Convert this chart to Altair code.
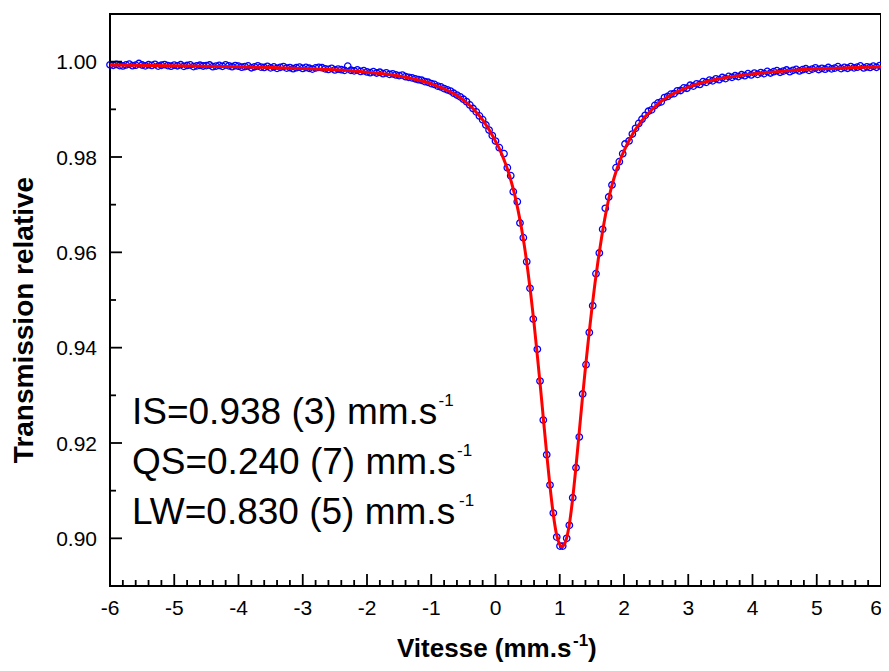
import altair as alt
import pandas as pd

FONT = "Liberation Sans"

left_wing = [(-6.00,0.99935),(-5.95,0.99925),(-5.90,0.99941),(-5.85,0.99918),(-5.80,0.99910),(-5.75,0.99932),(-5.70,0.99948),(-5.65,0.99915),(-5.60,0.99926),(-5.55,0.99962),(-5.50,0.99930),(-5.45,0.99912),(-5.40,0.99936),(-5.35,0.99921),(-5.30,0.99944),(-5.25,0.99908),(-5.20,0.99925),(-5.15,0.99939),(-5.10,0.99917),(-5.05,0.99905),(-5.00,0.99928),(-4.95,0.99914),(-4.90,0.99936),(-4.85,0.99902),(-4.80,0.99920),(-4.75,0.99931),(-4.70,0.99897),(-4.65,0.99912),(-4.60,0.99925),(-4.55,0.99909),(-4.50,0.99918),(-4.45,0.99930),(-4.40,0.99895),(-4.35,0.99908),(-4.30,0.99921),(-4.25,0.99903),(-4.20,0.99935),(-4.15,0.99912),(-4.10,0.99894),(-4.05,0.99918),(-4.00,0.99906),(-3.95,0.99884),(-3.90,0.99897),(-3.85,0.99911),(-3.80,0.99872),(-3.75,0.99893),(-3.70,0.99914),(-3.65,0.99886),(-3.60,0.99878),(-3.55,0.99902),(-3.50,0.99870),(-3.45,0.99889),(-3.40,0.99860),(-3.35,0.99881),(-3.30,0.99896),(-3.25,0.99866),(-3.20,0.99877),(-3.15,0.99852),(-3.10,0.99873),(-3.05,0.99886),(-3.00,0.99858),(-2.95,0.99879),(-2.90,0.99862),(-2.85,0.99844),(-2.80,0.99869),(-2.75,0.99881),(-2.70,0.99873),(-2.65,0.99850),(-2.60,0.99838),(-2.55,0.99861),(-2.50,0.99827),(-2.45,0.99844),(-2.40,0.99832),(-2.35,0.99818),(-2.30,0.99905),(-2.25,0.99820),(-2.20,0.99808),(-2.15,0.99826),(-2.10,0.99795),(-2.05,0.99812),(-2.00,0.99784),(-1.95,0.99770),(-1.90,0.99791),(-1.85,0.99762),(-1.80,0.99778),(-1.75,0.99748),(-1.70,0.99765),(-1.65,0.99735),(-1.60,0.99744),(-1.55,0.99722),(-1.50,0.99708),(-1.45,0.99718),(-1.40,0.99686),(-1.35,0.99672),(-1.30,0.99660),(-1.25,0.99641),(-1.20,0.99622),(-1.15,0.99610),(-1.10,0.99582),(-1.05,0.99568),(-1.00,0.99540),(-0.95,0.99522),(-0.90,0.99488),(-0.85,0.99470),(-0.80,0.99436),(-0.75,0.99410),(-0.70,0.99384),(-0.65,0.99338),(-0.60,0.99300),(-0.55,0.99262),(-0.50,0.99212),(-0.45,0.99160),(-0.40,0.99092),(-0.35,0.99018),(-0.30,0.98948),(-0.25,0.98862),(-0.20,0.98784),(-0.15,0.98672),(-0.10,0.98566),(-0.05,0.98450),(0.00,0.98335)]

dip = [(0.059,0.98196),(0.132,0.98070),(0.184,0.97776),(0.237,0.97608),(0.277,0.97272),(0.339,0.97063),(0.381,0.96616),(0.433,0.96307),(0.486,0.95804),(0.537,0.95245),(0.588,0.94601),(0.651,0.93966),(0.693,0.93300),(0.744,0.92482),(0.797,0.91754),(0.848,0.91118),(0.900,0.90531),(0.953,0.90027),(1.004,0.89838),(1.046,0.89838),(1.108,0.90000),(1.149,0.90273),(1.202,0.90852),(1.253,0.91481),(1.304,0.92125),(1.357,0.93028),(1.409,0.93643),(1.460,0.94318),(1.513,0.94880),(1.564,0.95552),(1.616,0.95986),(1.668,0.96483),(1.709,0.96924),(1.762,0.97161),(1.813,0.97413),(1.876,0.97776),(1.927,0.97902),(1.980,0.98070),(2.016,0.98273),(2.078,0.98336)]

right_wing = [(2.13,0.98482),(2.18,0.98601),(2.23,0.98705),(2.28,0.98792),(2.33,0.98874),(2.38,0.98960),(2.43,0.98990),(2.48,0.99082),(2.53,0.99135),(2.58,0.99158),(2.63,0.99246),(2.68,0.99270),(2.73,0.99318),(2.78,0.99330),(2.83,0.99388),(2.88,0.99395),(2.93,0.99450),(2.98,0.99442),(3.03,0.99505),(3.08,0.99488),(3.13,0.99535),(3.18,0.99522),(3.23,0.99580),(3.28,0.99566),(3.33,0.99612),(3.38,0.99598),(3.43,0.99640),(3.48,0.99622),(3.53,0.99668),(3.58,0.99645),(3.63,0.99690),(3.68,0.99672),(3.73,0.99705),(3.78,0.99688),(3.83,0.99726),(3.88,0.99705),(3.93,0.99748),(3.98,0.99722),(4.03,0.99760),(4.08,0.99735),(4.13,0.99772),(4.18,0.99750),(4.23,0.99795),(4.28,0.99762),(4.33,0.99790),(4.38,0.99812),(4.43,0.99778),(4.48,0.99802),(4.53,0.99825),(4.58,0.99790),(4.63,0.99818),(4.68,0.99838),(4.73,0.99805),(4.78,0.99832),(4.83,0.99852),(4.88,0.99818),(4.93,0.99844),(4.98,0.99870),(5.03,0.99835),(5.08,0.99860),(5.13,0.99842),(5.18,0.99878),(5.23,0.99850),(5.28,0.99866),(5.33,0.99895),(5.38,0.99855),(5.43,0.99880),(5.48,0.99862),(5.53,0.99898),(5.58,0.99870),(5.63,0.99885),(5.68,0.99910),(5.73,0.99868),(5.78,0.99892),(5.83,0.99878),(5.88,0.99905),(5.93,0.99882),(5.98,0.99918)]

# Fitted curve (red)
fit_curve = [(-6.0,0.99930),(-5.0,0.99914),(-4.0,0.99893),(-3.5,0.99877),(-3.0,0.99858),(-2.5,0.99828),(-2.0,0.99780),(-1.75,0.99745),(-1.5,0.99700),(-1.25,0.99630),(-1.0,0.99535),(-0.8,0.99430),(-0.6,0.99290),(-0.4,0.99080),(-0.3,0.98940),(-0.2,0.98780),(-0.1,0.98570),(0.0,0.98330),(0.05,0.98200),(0.1,0.98050),(0.15,0.97880),(0.2,0.97690),(0.25,0.97460),(0.3,0.97200),(0.35,0.96890),(0.4,0.96540),(0.45,0.96130),(0.5,0.95650),(0.55,0.95110),(0.6,0.94510),(0.65,0.93850),(0.7,0.93160),(0.75,0.92440),(0.8,0.91730),(0.85,0.91070),(0.9,0.90500),(0.95,0.90080),(1.0,0.89870),(1.03,0.89820),(1.06,0.89850),(1.1,0.89970),(1.15,0.90300),(1.2,0.90820),(1.25,0.91470),(1.3,0.92180),(1.35,0.92900),(1.4,0.93580),(1.45,0.94220),(1.5,0.94820),(1.55,0.95370),(1.6,0.95860),(1.65,0.96300),(1.7,0.96700),(1.75,0.97040),(1.8,0.97340),(1.85,0.97580),(1.9,0.97790),(1.95,0.97970),(2.0,0.98130),(2.1,0.98400),(2.2,0.98620),(2.3,0.98800),(2.4,0.98950),(2.6,0.99190),(2.8,0.99350),(3.0,0.99466),(3.2,0.99552),(3.5,0.99645),(4.0,0.99744),(4.5,0.99804),(5.0,0.99850),(5.5,0.99870),(6.0,0.99895)]

# Axis ticks and tick labels
x_major = [-6, -5, -4, -3, -2, -1, 0, 1, 2, 3, 4, 5, 6]
x_labels = ["-6", "-5", "-4", "-3", "-2", "-1", "0", "1", "2", "3", "4", "5", "6"]
x_minor = [-5.8,-5.6,-5.4,-5.2,-4.8,-4.6,-4.4,-4.2,-3.8,-3.6,-3.4,-3.2,-2.8,-2.6,-2.4,-2.2,-1.8,-1.6,-1.4,-1.2,-0.8,-0.6,-0.4,-0.2,0.2,0.4,0.6,0.8,1.2,1.4,1.6,1.8,2.2,2.4,2.6,2.8,3.2,3.4,3.6,3.8,4.2,4.4,4.6,4.8,5.2,5.4,5.6,5.8]
y_major = [0.90, 0.92, 0.94, 0.96, 0.98, 1.00]
y_labels = ["0.90", "0.92", "0.94", "0.96", "0.98", "1.00"]
y_minor = [0.91, 0.93, 0.95, 0.97, 0.99]

# Fit parameters annotation
param_text = ["IS=0.938 (3) mm.s", "QS=0.240 (7) mm.s", "LW=0.830 (5) mm.s"]
param_x = [-5.658, -5.658, -5.658]
param_y = [0.92398, 0.91349, 0.90300]
sup_x = [-0.887, -0.599, -0.568]
sup_y = [0.92777, 0.91727, 0.90678]

pts = pd.DataFrame(left_wing + dip + right_wing, columns=["v", "t"])
fit = pd.DataFrame(fit_curve, columns=["v", "t"])
params = pd.DataFrame({"v": param_x, "t": param_y, "label": param_text})
sups = pd.DataFrame({"v": sup_x, "t": sup_y, "label": ["-1"] * 3})
xlab_df = pd.DataFrame({"v": x_major, "label": x_labels})

xs = alt.Scale(domain=[-6, 6], nice=False, zero=False)
ys = alt.Scale(domain=[0.89, 1.01], nice=False, zero=False)

def X(field):
    return alt.X(field, scale=xs, axis=None)

def Y(field):
    return alt.Y(field, scale=ys, axis=None)

points = alt.Chart(pts).mark_point(shape="circle", filled=False, color="#0000FF",
                                   size=42, strokeWidth=1.3, opacity=1).encode(
    x=X("v:Q"), y=Y("t:Q"))

line = alt.Chart(fit).mark_line(color="#FF0000", strokeWidth=3, interpolate="monotone").encode(
    x=X("v:Q"), y=Y("t:Q"))

def xticks(vals, length):
    return alt.Chart(pd.DataFrame({"v": vals})).mark_rule(color="black", strokeWidth=1.8).encode(
        x=X("v:Q"), y=alt.value(572), y2=alt.value(572 - length))

def yticks(vals, length):
    return alt.Chart(pd.DataFrame({"t": vals})).mark_rule(color="black", strokeWidth=1.8).encode(
        y=Y("t:Q"), x=alt.value(0), x2=alt.value(length))

# the last x label sits on the right edge of the page, nudge it inside
xlab = alt.Chart(xlab_df.iloc[:-1]).mark_text(
    align="center", baseline="alphabetic", font=FONT, fontSize=21, color="black").encode(
    x=X("v:Q"), y=alt.value(601), text="label:N")
xlab_last = alt.Chart(xlab_df.iloc[-1:]).mark_text(
    align="center", baseline="alphabetic", dx=-5, font=FONT, fontSize=21, color="black").encode(
    x=X("v:Q"), y=alt.value(601), text="label:N")

ylab = alt.Chart(pd.DataFrame({"t": y_major, "label": y_labels})).mark_text(
    align="right", baseline="alphabetic", dy=7.5, font=FONT, fontSize=21, color="black").encode(
    y=Y("t:Q"), x=alt.value(-13), text="label:N")

one = pd.DataFrame({"a": [0]})
ytitle = alt.Chart(one).mark_text(align="center", baseline="alphabetic", angle=270, font=FONT,
                                  fontSize=28, fontWeight="bold", color="black").encode(
    x=alt.value(-77), y=alt.value(306), text=alt.value("Transmission relative"))

ann = alt.Chart(params).mark_text(align="left", baseline="alphabetic", font=FONT,
                                  fontSize=37, color="black").encode(
    x=X("v:Q"), y=Y("t:Q"), text="label:N")
ann_sup = alt.Chart(sups).mark_text(align="left", baseline="alphabetic", font=FONT,
                                    fontSize=17, color="black").encode(
    x=X("v:Q"), y=Y("t:Q"), text="label:N")

xt_main = alt.Chart(one).mark_text(align="left", baseline="alphabetic", font=FONT, fontSize=26,
                                   fontWeight="bold", color="black").encode(
    x=alt.value(287), y=alt.value(643), text=alt.value("Vitesse (mm.s"))
xt_sup = alt.Chart(one).mark_text(align="left", baseline="alphabetic", font=FONT, fontSize=17,
                                  fontWeight="bold", color="black").encode(
    x=alt.value(463), y=alt.value(632), text=alt.value("-1"))
xt_par = alt.Chart(one).mark_text(align="left", baseline="alphabetic", font=FONT, fontSize=26,
                                  fontWeight="bold", color="black").encode(
    x=alt.value(478), y=alt.value(643), text=alt.value(")"))

chart = alt.layer(
    points, line,
    xticks(x_major, 12), xticks(x_minor, 6), yticks(y_major, 12), yticks(y_minor, 6),
    xlab, xlab_last, ylab, ytitle,
    ann, ann_sup, xt_main, xt_sup, xt_par,
).properties(
    width=771, height=572,
    autosize=alt.AutoSizeParams(type="none"),
    padding={"left": 102, "top": 6, "right": 0, "bottom": 77},
    background="white",
).configure_view(stroke="black", strokeWidth=2)

chart.save("out.html", embed_options={"renderer": "svg", "actions": False})
